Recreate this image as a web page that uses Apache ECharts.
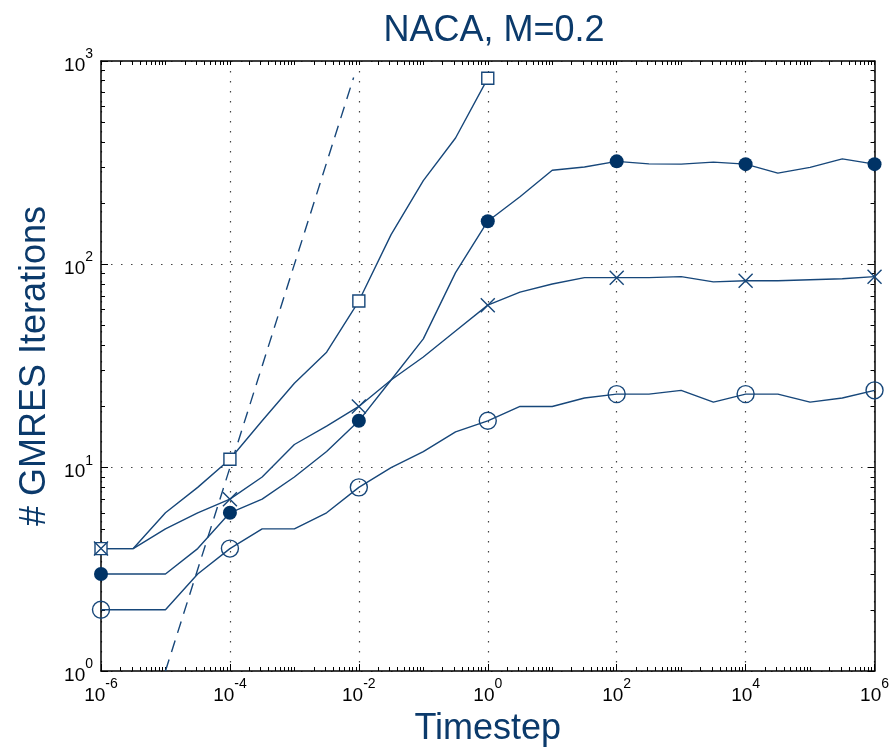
<!DOCTYPE html>
<html>
<head>
<meta charset="utf-8">
<script src="https://cdn.jsdelivr.net/npm/echarts@6/dist/echarts.min.js"></script>
<style>
  html, body { margin: 0; padding: 0; background: #fff; }
  #main { width: 892px; height: 752px; }
</style>
</head>
<body>
<div id="main"></div>
<script>
// 时间步（指数），每半个数量级一个点
var logDt = [-6, -5.5, -5, -4.5, -4, -3.5, -3, -2.5, -2, -1.5, -1, -0.5, 0,
             0.5, 1, 1.5, 2, 2.5, 3, 3.5, 4, 4.5, 5, 5.5, 6];

// 各曲线的 GMRES 迭代次数
var squareIters = [4, 4, 6, 8, 11, 17, 26, 37, 66, 140, 258, 418, 822];
var filledIters = [3, 3, 3, 4, 6, 7, 9, 12, 17, 27, 43, 91, 163,
                   215, 290, 301, 321, 312, 311, 318, 311, 281, 300, 330, 311];
var crossIters  = [4, 4, 5, 6, 7, 9, 13, 16, 20, 27, 35, 47, 63,
                   73, 80, 86, 86, 86, 87, 82, 83, 83, 84, 85, 87];
var circleIters = [2, 2, 2, 3, 4, 5, 5, 6, 8, 10, 12, 15, 17,
                   20, 20, 22, 23, 23, 24, 21, 23, 23, 21, 22, 24];

// 参考虚线 (斜率 1)
var refLine = [[1e-5, 1], [0.0083, 830]];

var navy = '#0b3a6b';
var lineCol = '#17477a';

var chart = echarts.init(document.getElementById('main'));

function pairs(arr) {
    var d = [];
    for (var i = 0; i < arr.length; i++) {
        d.push([Math.pow(10, logDt[i]), arr[i]]);
    }
    return d;
}

function powLabel(v) {
    var e = Math.round(Math.log10(v));
    return '{b|10}{e|' + e + '}';
}

var labelRich = {
    b: { fontSize: 19, fontFamily: 'Liberation Sans', color: '#000', lineHeight: 28, verticalAlign: 'bottom' },
    e: { fontSize: 14, fontFamily: 'Liberation Sans', color: '#000', lineHeight: 14, verticalAlign: 'top' }
};

function markEvery(sym) {
    return function (val, params) {
        return params.dataIndex % 4 === 0 ? sym : 'none';
    };
}

var frame = { show: true, onZero: false, lineStyle: { color: '#000', width: 1.5 } };
var dotted = { show: true, lineStyle: { color: '#444', width: 1.2, type: [1.5, 8.5] } };

var option = {
    backgroundColor: '#fff',
    animation: false,
    title: {
        text: 'NACA, M=0.2',
        left: 489,
        top: 8,
        textAlign: 'center',
        textStyle: { color: navy, fontSize: 36, fontWeight: 'normal', fontFamily: 'Liberation Sans' }
    },
    grid: { left: 101, right: 16, top: 61, bottom: 79 },
    xAxis: [
        {
            type: 'log', logBase: 10, min: 1e-6, max: 1e6, interval: 2,
            name: 'Timestep', nameLocation: 'middle', nameGap: 40,
            nameTextStyle: { color: navy, fontSize: 36, fontFamily: 'Liberation Sans' },
            axisLine: frame,
            axisTick: { show: true, inside: true, length: 7, lineStyle: { color: '#000' } },
            axisLabel: { formatter: powLabel, rich: labelRich, margin: 6 },
            splitLine: dotted,
            minorTick: { show: false }
        },
        {
            type: 'log', logBase: 10, min: 1e-6, max: 1e6, interval: 1,
            position: 'bottom',
            axisLine: { show: false },
            axisTick: { show: true, inside: true, length: 4, lineStyle: { color: '#000' } },
            axisLabel: { show: false },
            splitLine: { show: false },
            minorTick: { show: true, splitNumber: 9, length: 4, lineStyle: { color: '#000' } }
        },
        {
            type: 'log', logBase: 10, min: 1e-6, max: 1e6, interval: 1,
            position: 'top',
            axisLine: frame,
            axisTick: { show: true, inside: true, length: 4, lineStyle: { color: '#000' } },
            axisLabel: { show: false },
            splitLine: { show: false },
            minorTick: { show: true, splitNumber: 9, length: 4, lineStyle: { color: '#000' } }
        }
    ],
    yAxis: [
        {
            type: 'log', logBase: 10, min: 1, max: 1000, interval: 1,
            name: '# GMRES Iterations', nameLocation: 'middle', nameGap: 46,
            nameTextStyle: { color: navy, fontSize: 36, fontFamily: 'Liberation Sans' },
            axisLine: frame,
            axisTick: { show: true, inside: true, length: 7, lineStyle: { color: '#000' } },
            axisLabel: { formatter: powLabel, rich: labelRich, margin: 8 },
            splitLine: dotted,
            minorTick: { show: true, splitNumber: 9, length: 4, lineStyle: { color: '#000' } }
        },
        {
            type: 'log', logBase: 10, min: 1, max: 1000, interval: 1,
            position: 'right',
            axisLine: frame,
            axisTick: { show: true, inside: true, length: 7, lineStyle: { color: '#000' } },
            axisLabel: { show: false },
            splitLine: { show: false },
            minorTick: { show: true, splitNumber: 9, length: 4, lineStyle: { color: '#000' } }
        }
    ],
    series: [
        {
            type: 'line', data: refLine, symbol: 'none',
            lineStyle: { color: lineCol, width: 1.4, type: [12, 8] }
        },
        {
            type: 'line', data: pairs(squareIters), showAllSymbol: true,
            symbol: markEvery('rect'), symbolSize: 12,
            itemStyle: { color: '#fff', borderColor: lineCol, borderWidth: 1.4 },
            lineStyle: { color: lineCol, width: 1.4 }
        },
        {
            type: 'line', data: pairs(filledIters), showAllSymbol: true,
            symbol: markEvery('circle'), symbolSize: 14,
            itemStyle: { color: '#003366', borderWidth: 0 },
            lineStyle: { color: lineCol, width: 1.4 }
        },
        {
            type: 'line', data: pairs(crossIters), showAllSymbol: true,
            symbol: markEvery('path://M0,0L10,10M10,0L0,10'), symbolSize: 14,
            itemStyle: { color: 'none', borderColor: lineCol, borderWidth: 1.4 },
            lineStyle: { color: lineCol, width: 1.4 }
        },
        {
            type: 'line', data: pairs(circleIters), showAllSymbol: true,
            symbol: markEvery('circle'), symbolSize: 17,
            itemStyle: { color: 'none', borderColor: lineCol, borderWidth: 1.4 },
            lineStyle: { color: lineCol, width: 1.4 }
        }
    ]
};

chart.setOption(option);
</script>
</body>
</html>
